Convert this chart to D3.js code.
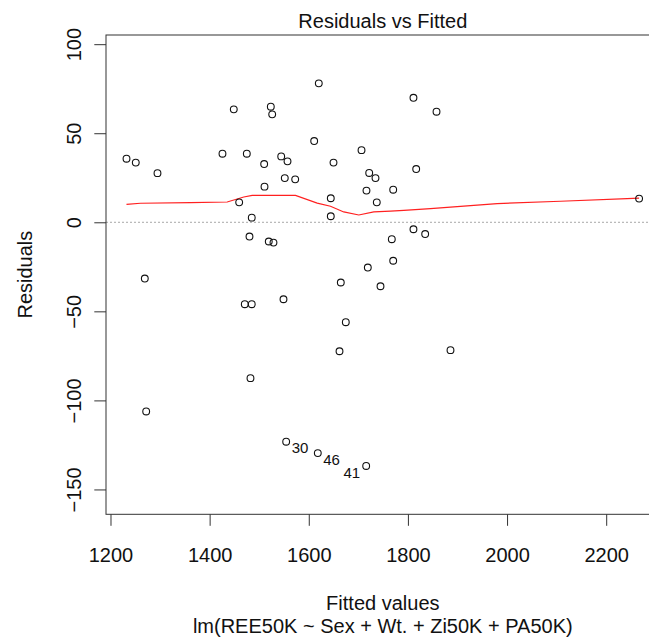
<!DOCTYPE html>
<html>
<head>
<meta charset="utf-8">
<script src="https://cdn.jsdelivr.net/npm/d3@7"></script>
<style>
  html, body { margin: 0; padding: 0; background: #fff; }
  svg { display: block; font-family: "Liberation Sans", Arial, sans-serif; }
</style>
</head>
<body>
<svg id="chart" width="649" height="641"></svg>
<script>
// Fitted values and residuals of lm(REE50K ~ Sex + Wt. + Zi50K + PA50K)
const fitted = [
  1232.3, 1251.0, 1294.8, 1425.9, 1448.7, 1475.0, 1459.6, 1485.0, 1480.4, 1523.4,
  1526.2, 1510.0, 1510.7, 1519.3, 1528.8, 1544.4, 1557.1, 1551.6, 1572.6, 1620.2,
  1610.9, 1649.9, 1644.4, 1644.4, 1706.4, 1721.9, 1734.6, 1716.4, 1737.2, 1719.1,
  1770.3, 1767.5, 1770.3, 1811.2, 1857.7, 1816.7, 1811.2, 1834.8, 2266.4, 1269.2,
  1470.9, 1485.0, 1549.0, 1664.6, 1744.7, 1674.7, 1662.0, 1482.4, 1272.0, 1885.9,
  1554.4, 1618.2, 1715.8
];
const residuals = [
  35.7, 33.5, 27.6, 38.5, 63.4, 38.5, 11.2, 2.6, -8.0, 64.9,
  60.6, 32.7, 20.0, -10.8, -11.4, 37.0, 34.2, 24.8, 24.1, 78.0,
  45.6, 33.5, 13.5, 3.4, 40.5, 27.7, 24.8, 17.8, 11.2, -25.4,
  18.3, -9.5, -21.6, 69.9, 62.1, 29.9, -3.9, -6.6, 13.3, -31.6,
  -46.0, -46.0, -43.2, -33.8, -35.9, -56.1, -72.4, -87.5, -106.2, -71.8,
  -123.2, -129.6, -136.8
];
// Observation ids of the three largest residuals (by index into the arrays above)
const labelIndex = [50, 51, 52];
const labelText = ["30", "46", "41"];

// Lowess smooth of residuals on fitted values
const smoothX = [1232.3, 1260.5, 1361.4, 1435.4, 1468.9, 1485.9, 1573.2, 1617.0, 1643.8, 1670.6,
                 1700.9, 1731.2, 1764.9, 1791.7, 1845.5, 1980.1, 2107.8, 2242.3, 2266.4];
const smoothY = [10.1, 10.7, 11.0, 11.4, 14.2, 15.1, 15.1, 10.8, 9.0, 5.8,
                 4.1, 5.8, 6.3, 6.7, 7.7, 10.5, 11.8, 13.3, 13.6];

const xTicks = [1200, 1400, 1600, 1800, 2000, 2200];
const yTicks = [-150, -100, -50, 0, 50, 100];

const title = "Residuals vs Fitted";
const xTitle = "Fitted values";
const yTitle = "Residuals";
const subTitle = "lm(REE50K ~ Sex + Wt. + Zi50K + PA50K)";

// ---- layout ----
const svg = d3.select("#chart");
const plotLeft = 106, plotTop = 35, plotBottom = 514.3;

function extend(r, f) { const d = (r[1] - r[0]) * f; return [r[0] - d, r[1] + d]; }
const xlim = extend(d3.extent(fitted), 0.04);
const ylim = extend(extend(d3.extent(residuals), 0.08), 0.04);
const pxPerX = 0.4957;
const plotRight = plotLeft + (xlim[1] - xlim[0]) * pxPerX;

const x = d3.scaleLinear().domain(xlim).range([plotLeft, plotRight]);
const y = d3.scaleLinear().domain(ylim).range([plotBottom, plotTop]);

const ink = "#111";
const axisCol = "#333";

// zero reference line
svg.append("line")
  .attr("x1", plotLeft).attr("x2", plotRight)
  .attr("y1", y(0)).attr("y2", y(0))
  .attr("stroke", "#a8a8a8").attr("stroke-width", 1)
  .attr("stroke-dasharray", "2,2");

// lowess line
const line = d3.line().x((d, i) => x(smoothX[i])).y((d, i) => y(smoothY[i]));
svg.append("path")
  .datum(smoothX)
  .attr("d", line)
  .attr("fill", "none")
  .attr("stroke", "#ff2020")
  .attr("stroke-width", 1.2);

// points
svg.append("g").selectAll("circle")
  .data(fitted)
  .join("circle")
  .attr("cx", d => x(d))
  .attr("cy", (d, i) => y(residuals[i]))
  .attr("r", 3.4)
  .attr("fill", "none")
  .attr("stroke", ink)
  .attr("stroke-width", 1.1);

// id labels
labelIndex.forEach((idx, k) => {
  const onRight = k < 2;
  svg.append("text")
    .attr("x", x(fitted[idx]) + (onRight ? 5.5 : -6))
    .attr("y", y(residuals[idx]) + 11.6)
    .attr("text-anchor", onRight ? "start" : "end")
    .attr("font-size", 15)
    .attr("fill", ink)
    .text(labelText[k]);
});

// box
svg.append("rect")
  .attr("x", plotLeft).attr("y", plotTop)
  .attr("width", plotRight - plotLeft).attr("height", plotBottom - plotTop)
  .attr("fill", "none").attr("stroke", axisCol).attr("stroke-width", 1);

// x axis
const xAxis = d3.axisBottom(x).tickValues(xTicks).tickSize(11.5).tickPadding(0).tickFormat(d3.format("d"));
const gx = svg.append("g").attr("transform", `translate(0,${plotBottom})`).call(xAxis);
gx.select(".domain").remove();
gx.selectAll(".tick line").attr("stroke", axisCol);
gx.selectAll(".tick text")
  .attr("font-size", 20).attr("fill", ink)
  .attr("font-family", "Liberation Sans, Arial, sans-serif")
  .attr("dy", null).attr("y", 561.7 - plotBottom);

// y axis (labels parallel to the axis)
const yAxis = d3.axisLeft(y).tickValues(yTicks).tickSize(11.7).tickFormat(d3.format("d"));
const gy = svg.append("g").attr("transform", `translate(${plotLeft},0)`).call(yAxis);
gy.select(".domain").remove();
gy.selectAll(".tick line").attr("stroke", axisCol);
gy.selectAll(".tick text")
  .attr("font-size", 20).attr("fill", ink)
  .attr("font-family", "Liberation Sans, Arial, sans-serif")
  .attr("x", null).attr("dy", null)
  .attr("text-anchor", "middle")
  .attr("transform", `translate(${80.5 - plotLeft},0) rotate(-90)`)
  .attr("y", 0);

// titles
const plotMid = (plotLeft + plotRight) / 2;
svg.append("text").attr("x", plotMid).attr("y", 28.3)
  .attr("text-anchor", "middle").attr("font-size", 20).attr("fill", ink).text(title);
svg.append("text").attr("x", plotMid).attr("y", 610)
  .attr("text-anchor", "middle").attr("font-size", 20).attr("fill", ink).text(xTitle);
svg.append("text").attr("x", plotMid).attr("y", 633)
  .attr("text-anchor", "middle").attr("font-size", 20).attr("fill", ink).text(subTitle);
svg.append("text")
  .attr("transform", `translate(32,${(plotTop + plotBottom) / 2}) rotate(-90)`)
  .attr("text-anchor", "middle").attr("font-size", 20).attr("fill", ink).text(yTitle);
</script>
</body>
</html>
